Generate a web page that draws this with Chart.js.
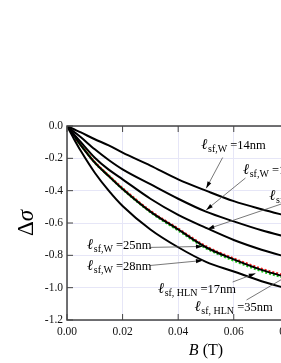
<!DOCTYPE html>
<html>
<head>
<meta charset="utf-8">
<script src="https://cdn.jsdelivr.net/npm/chart.js@4.4.1/dist/chart.umd.min.js"></script>
<style>
  html, body { margin: 0; padding: 0; background: #fff; overflow: hidden; }
  #wrap { width: 281px; height: 363px; overflow: hidden; }
</style>
</head>
<body>
<div id="wrap"><canvas id="chart" width="360" height="363" style="width:360px;height:363px"></canvas></div>
<script>
// magnetic field (T) and conductance change for the W fits
const fieldB = [0, 0.0025, 0.005, 0.01, 0.015, 0.02, 0.03, 0.04, 0.05, 0.06, 0.07, 0.08];
const sigW14 = [0, -0.02, -0.04, -0.082, -0.12, -0.165, -0.245, -0.33, -0.40, -0.465, -0.515, -0.56];
const sigW18 = [0, -0.035, -0.07, -0.144, -0.21, -0.268, -0.36, -0.45, -0.53, -0.59, -0.645, -0.69];
const sigW21 = [0, -0.05, -0.10, -0.196, -0.27, -0.33, -0.45, -0.55, -0.63, -0.705, -0.765, -0.815];
const sigW25 = [0, -0.06, -0.12, -0.227, -0.31, -0.39, -0.53, -0.64, -0.75, -0.825, -0.89, -0.94];
const sigW28 = [0, -0.08, -0.155, -0.289, -0.40, -0.495, -0.64, -0.75, -0.84, -0.90, -0.96, -1.01];

// HLN fits (dotted)
const fieldHLN = [0.003, 0.005, 0.01, 0.015, 0.02, 0.03, 0.04, 0.05, 0.06, 0.07, 0.08];
const sigHLN17 = [-0.075, -0.118, -0.224, -0.307, -0.386, -0.526, -0.636, -0.745, -0.82, -0.884, -0.933];
const sigHLN35 = [-0.075, -0.119, -0.226, -0.309, -0.39, -0.532, -0.645, -0.755, -0.832, -0.897, -0.947];

const xTicks = [0, 0.02, 0.04, 0.06, 0.08, 0.10];
const yTicks = [0, -0.2, -0.4, -0.6, -0.8, -1.0, -1.2];

// labels: text anchor, arrow tail, arrow tip (data coords)
const notes = [
  { at: [0.0483, -0.145], sub: "sf,W", val: "14nm", from: [0.0560, -0.195], to: [0.0501, -0.385], head: true },
  { at: [0.0633, -0.297], sub: "sf,W", val: "18nm", from: [0.0642, -0.322], to: [0.0501, -0.519], head: true },
  { at: [0.0728, -0.455], sub: "sf,W", val: "21nm", from: [0.0782, -0.476], to: [0.0506, -0.637], head: true },
  { at: [0.0072, -0.761], sub: "sf,W", val: "25nm", from: [0.0298, -0.751], to: [0.0488, -0.745], head: true },
  { at: [0.0072, -0.891], sub: "sf,W", val: "28nm", from: [0.0298, -0.863], to: [0.0488, -0.832], head: true },
  { at: [0.0327, -1.036], sub: "sf, HLN", val: "17nm", from: [0.0596, -0.965], to: [0.0678, -0.912], head: true },
  { at: [0.0459, -1.147], sub: "sf, HLN", val: "35nm", from: [0.0646, -1.076], to: [0.0818, -0.903], head: false }
];

const pts = (xs, ys) => xs.map((x, i) => ({ x: x, y: ys[i] }));
const serif = "'Liberation Serif', 'Times New Roman', serif";

function solid(data) {
  return { data: data, borderColor: "#000", borderWidth: 2, pointRadius: 0, fill: false,
           cubicInterpolationMode: "monotone" };
}
function dotted(data, color, offset) {
  return { data: data, borderColor: color, borderWidth: 2.5, borderDash: [2, 2], borderDashOffset: offset,
           pointRadius: 0, fill: false, cubicInterpolationMode: "monotone" };
}

const extras = {
  id: "extras",
  afterDraw(chart) {
    const ctx = chart.ctx, a = chart.chartArea;
    const xs = chart.scales.x, ys = chart.scales.y;
    ctx.save();
    // frame
    ctx.strokeStyle = "#444";
    ctx.lineWidth = 1.5;
    ctx.strokeRect(a.left, a.top, a.right - a.left, a.bottom - a.top);
    // inward ticks
    ctx.lineWidth = 1;
    ctx.beginPath();
    xTicks.forEach(v => {
      const px = xs.getPixelForValue(v);
      ctx.moveTo(px, a.bottom); ctx.lineTo(px, a.bottom - 6);
      ctx.moveTo(px, a.top); ctx.lineTo(px, a.top + 6);
    });
    yTicks.forEach(v => {
      const py = ys.getPixelForValue(v);
      ctx.moveTo(a.left, py); ctx.lineTo(a.left + 6, py);
      ctx.moveTo(a.right, py); ctx.lineTo(a.right - 6, py);
    });
    ctx.stroke();

    // annotations
    notes.forEach(n => {
      const x0 = xs.getPixelForValue(n.from[0]), y0 = ys.getPixelForValue(n.from[1]);
      const x1 = xs.getPixelForValue(n.to[0]), y1 = ys.getPixelForValue(n.to[1]);
      ctx.strokeStyle = "#555";
      ctx.lineWidth = 0.8;
      ctx.beginPath(); ctx.moveTo(x0, y0); ctx.lineTo(x1, y1); ctx.stroke();
      if (n.head) {
        const ang = Math.atan2(y1 - y0, x1 - x0);
        ctx.fillStyle = "#000";
        ctx.beginPath();
        ctx.moveTo(x1, y1);
        ctx.lineTo(x1 - 7 * Math.cos(ang - 0.3), y1 - 7 * Math.sin(ang - 0.3));
        ctx.lineTo(x1 - 7 * Math.cos(ang + 0.3), y1 - 7 * Math.sin(ang + 0.3));
        ctx.closePath(); ctx.fill();
      }
      let tx = xs.getPixelForValue(n.at[0]);
      const ty = ys.getPixelForValue(n.at[1]);
      ctx.fillStyle = "#000";
      ctx.textBaseline = "alphabetic";
      ctx.textAlign = "left";
      ctx.font = "italic 15px " + serif;
      ctx.fillText("\u2113", tx, ty);
      tx += ctx.measureText("\u2113").width + 0.5;
      ctx.font = "10px " + serif;
      ctx.fillText(n.sub, tx, ty + 3);
      tx += ctx.measureText(n.sub).width;
      ctx.font = "12.5px " + serif;
      ctx.fillText(" =" + n.val, tx, ty);
    });

    // axis titles
    ctx.fillStyle = "#000";
    ctx.textBaseline = "alphabetic";
    ctx.font = "italic 16px " + serif;
    const bw = ctx.measureText("B").width;
    ctx.font = "16px " + serif;
    const rw = ctx.measureText(" (T)").width;
    const cx = (a.left + a.right) / 2;
    let sx = cx - (bw + rw) / 2;
    ctx.font = "italic 16px " + serif;
    ctx.textAlign = "left";
    ctx.fillText("B", sx, 355);
    ctx.font = "16px " + serif;
    ctx.fillText(" (T)", sx + bw, 355);

    ctx.translate(27, (a.top + a.bottom) / 2);
    ctx.rotate(-Math.PI / 2);
    ctx.font = "23px " + serif;
    const dw = ctx.measureText("\u0394").width;
    ctx.font = "italic 23px " + serif;
    const sw = ctx.measureText("\u03c3").width;
    ctx.textBaseline = "middle";
    ctx.font = "23px " + serif;
    ctx.fillText("\u0394", -(dw + sw) / 2, 0);
    ctx.font = "italic 23px " + serif;
    ctx.fillText("\u03c3", -(dw + sw) / 2 + dw, 0);
    ctx.restore();
  }
};

new Chart(document.getElementById("chart").getContext("2d"), {
  type: "line",
  data: {
    datasets: [
      solid(pts(fieldB, sigW14)),
      solid(pts(fieldB, sigW18)),
      solid(pts(fieldB, sigW21)),
      solid(pts(fieldB, sigW25)),
      solid(pts(fieldB, sigW28)),
      dotted(pts(fieldHLN, sigHLN35), "#18c818", 0),
      dotted(pts(fieldHLN, sigHLN17), "#ff1a1a", 2)
    ]
  },
  options: {
    responsive: false,
    animation: false,
    devicePixelRatio: 1,
    layout: { padding: { top: 126, left: 0, right: 14.3, bottom: 0 } },
    plugins: { legend: { display: false }, tooltip: { enabled: false } },
    scales: {
      x: {
        type: "linear", min: 0, max: 0.1,
        afterFit: s => { s.height = 43; },
        afterBuildTicks: s => { s.ticks = xTicks.map(v => ({ value: v })); },
        grid: { color: "#e6e6f7", lineWidth: 1, drawTicks: false },
        border: { display: false },
        ticks: { padding: 5, color: "#111", font: { family: serif, size: 11.5 },
                 callback: v => v.toFixed(2), maxRotation: 0, autoSkip: false }
      },
      y: {
        type: "linear", min: -1.2, max: 0,
        afterFit: s => { s.width = 67; },
        afterBuildTicks: s => { s.ticks = yTicks.map(v => ({ value: v })); },
        grid: { color: "#e6e6f7", lineWidth: 1, drawTicks: false },
        border: { display: false },
        ticks: { padding: 4, color: "#111", font: { family: serif, size: 11.5 },
                 callback: v => v.toFixed(1), autoSkip: false }
      }
    }
  },
  plugins: [extras]
});
</script>
</body>
</html>
